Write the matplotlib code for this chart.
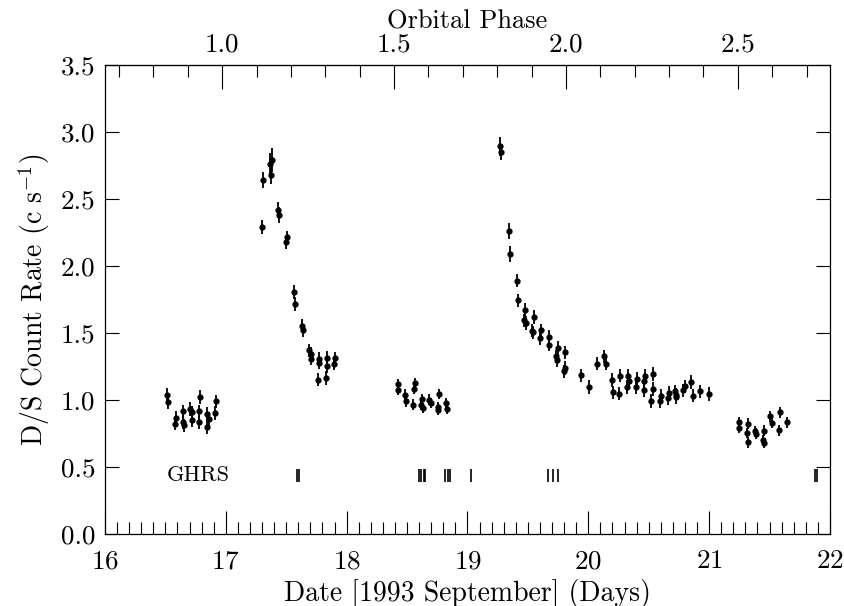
import numpy as np
import matplotlib.pyplot as plt
from matplotlib.ticker import MultipleLocator

plt.rcParams['font.family'] = ['cmr10', 'DejaVu Serif']
plt.rcParams['mathtext.fontset'] = 'cm'
plt.rcParams['axes.formatter.use_mathtext'] = True

# D/S count rates, 1993 September
days = [16.512, 16.524, 16.588, 16.580, 16.648, 16.644, 16.657, 16.704, 16.718, 16.723,
        16.787, 16.781, 16.776, 16.842, 16.858, 16.847, 16.920, 16.914,
        17.306, 17.300, 17.381, 17.366, 17.374, 17.430, 17.439, 17.509, 17.499,
        17.566, 17.574, 17.629, 17.637, 17.691, 17.704, 17.704, 17.767, 17.775,
        17.762, 17.836, 17.836, 17.827, 17.905, 17.899,
        18.429, 18.424, 18.562, 18.557, 18.484, 18.495, 18.551, 18.625, 18.619,
        18.631, 18.685, 18.698, 18.764, 18.752, 18.760, 18.821, 18.829,
        19.271, 19.279, 19.344, 19.352, 19.406, 19.418, 19.475, 19.470, 19.484,
        19.550, 19.534, 19.545, 19.610, 19.602, 19.675, 19.672, 19.746, 19.732,
        19.741, 19.803, 19.811, 19.798, 19.939, 20.009, 20.074, 20.126, 20.144,
        20.193, 20.207, 20.262, 20.256, 20.329, 20.337, 20.323, 20.403, 20.392,
        20.470, 20.464, 20.464, 20.533, 20.536, 20.522, 20.590, 20.602, 20.657,
        20.671, 20.720, 20.729, 20.723, 20.785, 20.798, 20.853, 20.864, 20.928,
        20.996,
        21.250, 21.244, 21.319, 21.314, 21.325, 21.377, 21.388, 21.452, 21.444,
        21.458, 21.507, 21.521, 21.585, 21.577, 21.642]
rates = [1.040, 0.985, 0.866, 0.823, 0.915, 0.836, 0.810, 0.932, 0.908, 0.848,
         1.022, 0.915, 0.836, 0.896, 0.859, 0.798, 0.990, 0.903,
         2.644, 2.291, 2.788, 2.764, 2.681, 2.420, 2.382, 2.213, 2.176,
         1.806, 1.718, 1.554, 1.520, 1.370, 1.343, 1.308, 1.306, 1.278,
         1.151, 1.314, 1.251, 1.164, 1.311, 1.271,
         1.120, 1.077, 1.126, 1.084, 1.040, 0.990, 0.965, 1.007, 0.965,
         0.940, 1.002, 0.978, 1.045, 0.945, 0.927, 0.978, 0.932,
         2.893, 2.850, 2.263, 2.092, 1.890, 1.743, 1.671, 1.594, 1.575,
         1.619, 1.518, 1.505, 1.520, 1.462, 1.470, 1.413, 1.388, 1.325,
         1.296, 1.355, 1.239, 1.213, 1.184, 1.097, 1.271, 1.325, 1.271,
         1.149, 1.057, 1.182, 1.047, 1.182, 1.144, 1.097, 1.159, 1.097,
         1.182, 1.144, 1.074, 1.194, 1.082, 0.994, 0.990, 1.032, 1.015,
         1.053, 1.064, 1.040, 1.022, 1.071, 1.102, 1.134, 1.032, 1.064,
         1.045,
         0.833, 0.791, 0.823, 0.754, 0.683, 0.766, 0.748, 0.771, 0.699,
         0.679, 0.877, 0.828, 0.908, 0.773, 0.833]
errs = [0.05] * 18 + [0.06, 0.05, 0.09, 0.08, 0.07, 0.06, 0.06, 0.05, 0.05] \
    + [0.05] * 15 + [0.04] * 17 + [0.07, 0.06, 0.06, 0.06] + [0.05] * 51 + [0.04] * 15

# GHRS observation times
ghrs_days = [17.590, 17.607, 18.600, 18.617, 18.637, 18.650, 18.811, 18.840,
             18.858, 19.031, 19.669, 19.710, 19.751, 21.876, 21.896]

# orbital phase ephemeris
phase_zero_day = 16.97
period = 2.845


def day_to_phase(d):
    return 1.0 + (d - phase_zero_day) / period


def phase_to_day(p):
    return phase_zero_day + (p - 1.0) * period


fig = plt.figure(figsize=(8.44, 6.06), dpi=100)
ax = fig.add_axes([0.1244, 0.1188, 0.859, 0.7739])

ax.errorbar(days, rates, yerr=errs, fmt='o', color='black', markersize=3.5,
            elinewidth=1.3, capsize=0)
ax.vlines(ghrs_days, 0.39, 0.487, color='black', linewidth=1.2)
ax.text(16.51, 0.435, 'GHRS', fontsize=16, va='center', ha='left')

ax.set_xlim(16, 22)
ax.set_ylim(0, 3.5)
ax.xaxis.set_major_locator(MultipleLocator(1))
ax.xaxis.set_minor_locator(MultipleLocator(0.1))
ax.yaxis.set_major_locator(MultipleLocator(0.5))
ax.yaxis.set_major_formatter(plt.FormatStrFormatter('%.1f'))
ax.tick_params(axis='x', which='major', direction='in', length=16.5, width=0.8,
               labelsize=19.5, pad=11, top=False)
ax.tick_params(axis='x', which='minor', direction='in', length=8.4, width=0.8, top=False)
ax.tick_params(axis='y', which='major', direction='in', length=10, width=0.8,
               labelsize=19.5, pad=7, right=True)
for s in ax.spines.values():
    s.set_linewidth(0.9)

sec = ax.secondary_xaxis('top', functions=(day_to_phase, phase_to_day))
sec.xaxis.set_major_locator(MultipleLocator(0.5))
sec.xaxis.set_minor_locator(MultipleLocator(0.1))
sec.xaxis.set_major_formatter(plt.FormatStrFormatter('%.1f'))
sec.tick_params(which='major', direction='in', length=17, width=0.8, labelsize=19.5, pad=6)
sec.tick_params(which='minor', direction='in', length=8.4, width=0.8)
sec.set_xlabel('Orbital Phase', fontsize=19, labelpad=3)

ax.set_xlabel('Date [1993 September] (Days)', fontsize=20, labelpad=4)
ax.set_ylabel(r'D/S Count Rate (c s$^{-1}$)', fontsize=20, labelpad=6)

fig.savefig('out.png', dpi=100)
